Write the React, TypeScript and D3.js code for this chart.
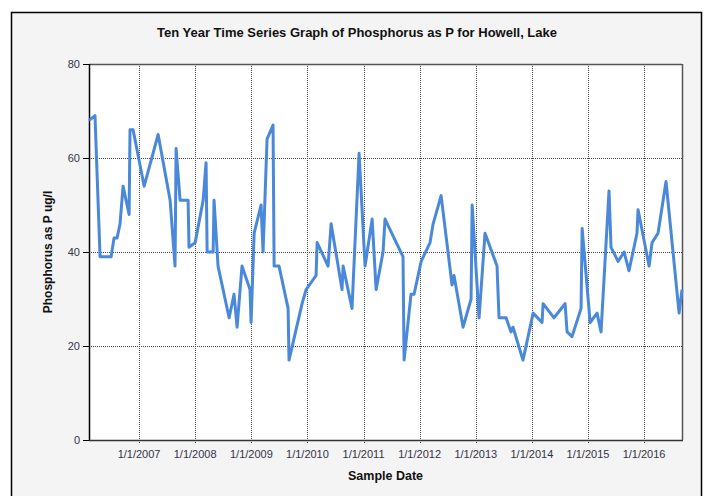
import React from "react";
import * as d3 from "d3";

const sampleDates: string[] = [
  "2006-02-09","2006-03-20","2006-04-22","2006-07-03","2006-07-22","2006-08-11","2006-08-30","2006-09-19","2006-10-28","2006-11-03","2006-11-23",
  "2007-02-03","2007-05-05","2007-07-22","2007-08-23","2007-08-30","2007-09-25","2007-11-16","2007-11-22",
  "2008-01-01","2008-02-22","2008-03-12","2008-03-19","2008-04-27","2008-05-03","2008-05-29","2008-08-09","2008-09-10","2008-09-30","2008-11-01","2008-12-23","2008-12-30",
  "2009-01-19","2009-03-05","2009-03-18","2009-04-13","2009-05-22","2009-05-29","2009-06-30","2009-08-28","2009-09-03","2009-11-27","2009-12-23",
  "2010-02-26","2010-03-05","2010-05-15","2010-06-04","2010-08-14","2010-08-21","2010-10-18","2010-12-03",
  "2011-01-11","2011-02-26","2011-03-24","2011-05-08","2011-05-21","2011-09-15","2011-09-22","2011-11-06","2011-11-26",
  "2012-01-11","2012-03-09","2012-03-29","2012-05-20","2012-07-30","2012-08-12","2012-10-10","2012-12-01","2012-12-08",
  "2013-01-22","2013-03-02","2013-05-19","2013-06-01","2013-07-17","2013-08-18","2013-08-31","2013-11-04",
  "2014-01-09","2014-03-08","2014-03-15","2014-05-25","2014-08-05","2014-08-18","2014-09-19","2014-11-17","2014-11-24",
  "2015-01-15","2015-03-01","2015-03-27","2015-05-18","2015-05-31","2015-07-16","2015-08-24","2015-09-25","2015-11-16","2015-11-23",
  "2016-02-03","2016-02-22","2016-04-01","2016-05-23","2016-08-16","2016-09-04"
];

const phosphorus: number[] = [
  68,69,39,39,43,43,46,54,48,66,66,
  54,65,51,37,62,51,51,41,
  42,51,59,40,40,51,37,26,31,24,37,32,25,
  44,50,40,64,67,37,37,28,17,29,32,
  35,42,37,46,32,37,28,61,
  37,47,32,40,47,39,17,31,31,
  38,42,46,52,33,35,24,30,50,
  26,44,37,26,26,23,24,17,
  27,25,29,26,29,23,22,28,45,
  25,27,23,53,41,38,40,36,44,49,
  37,42,44,55,27,32
];

const yTicks: number[] = [0, 20, 40, 60, 80];
const xTickYears: number[] = [2007, 2008, 2009, 2010, 2011, 2012, 2013, 2014, 2015, 2016];

const titleText = "Ten Year Time Series Graph of Phosphorus as P for Howell, Lake";
const xTitle = "Sample Date";
const yTitle = "Phosphorus as P ug/l";

export default function App() {
  const W = 706, H = 496;
  const left = 89, right = 682, top = 64, bottom = 440;
  const parse = d3.timeParse("%Y-%m-%d");
  const data = sampleDates.map((d, i) => ({ date: parse(d) as Date, value: phosphorus[i] }));
  const x = d3.scaleTime()
    .domain(d3.extent(data, d => d.date) as [Date, Date])
    .range([left, right]);
  const y = d3.scaleLinear().domain([0, 80]).range([bottom, top]);
  const line = d3.line<{ date: Date; value: number }>()
    .x(d => x(d.date))
    .y(d => y(d.value));
  const xTicks = xTickYears.map(yr => new Date(yr, 0, 1));
  const font = "'Liberation Sans', Arial, sans-serif";

  return (
    <svg width={W} height={H} style={{ position: "absolute", left: 0, top: 0, background: "#fff" }}
      fontFamily={font}>
      <rect x={11.5} y={12.5} width={690} height={500} fill="#f4f4f4" stroke="#000" strokeWidth={1.5} />
      <text x={357} y={37} textAnchor="middle" fontSize={13} fontWeight="bold" fill="#111">{titleText}</text>
      <rect x={left} y={top} width={right - left} height={bottom - top} fill="#fff" />
      {/* grid */}
      {yTicks.filter(t => t > 0 && t < 80).map(t => (
        <line key={"gy" + t} x1={left} x2={right} y1={Math.round(y(t)) + 0.5} y2={Math.round(y(t)) + 0.5}
          stroke="#444" strokeWidth={1} strokeDasharray="1,1" />
      ))}
      {xTicks.map((t, i) => (
        <line key={"gx" + i} x1={Math.round(x(t)) + 0.5} x2={Math.round(x(t)) + 0.5} y1={top} y2={bottom + 4}
          stroke="#444" strokeWidth={1} strokeDasharray="1,1" />
      ))}
      {/* frame */}
      <line x1={left} x2={right} y1={top + 0.5} y2={top + 0.5} stroke="#555" strokeWidth={1.5} />
      <line x1={right + 0.5} x2={right + 0.5} y1={top} y2={bottom} stroke="#555" strokeWidth={1.5} />
      <line x1={left + 0.5} x2={left + 0.5} y1={top} y2={bottom} stroke="#000" strokeWidth={1.5} />
      <line x1={left} x2={right + 1} y1={bottom + 0.5} y2={bottom + 0.5} stroke="#333" strokeWidth={1.5} />
      {/* y ticks */}
      {yTicks.map(t => (
        <g key={"yt" + t}>
          <line x1={left - 6} x2={left} y1={Math.round(y(t)) + 0.5} y2={Math.round(y(t)) + 0.5} stroke="#000" strokeWidth={1} />
          <text x={left - 9} y={y(t) + 4} textAnchor="end" fontSize={11} fill="#333344">{t}</text>
        </g>
      ))}
      {/* x tick labels */}
      {xTicks.map((t, i) => (
        <text key={"xt" + i} x={x(t)} y={bottom + 18} textAnchor="middle" fontSize={11} fill="#333344">
          {d3.timeFormat("%-m/%-d/%Y")(t)}
        </text>
      ))}
      <path d={line(data) || ""} fill="none" stroke="#4a88d9" strokeWidth={3} strokeLinejoin="round" />
      <text x={(left + right) / 2} y={bottom + 40} textAnchor="middle" fontSize={12.5} fontWeight="bold" fill="#111">{xTitle}</text>
      <text transform={`translate(52, ${(top + bottom) / 2}) rotate(-90)`} textAnchor="middle" fontSize={12} fontWeight="bold" fill="#111">{yTitle}</text>
    </svg>
  );
}
